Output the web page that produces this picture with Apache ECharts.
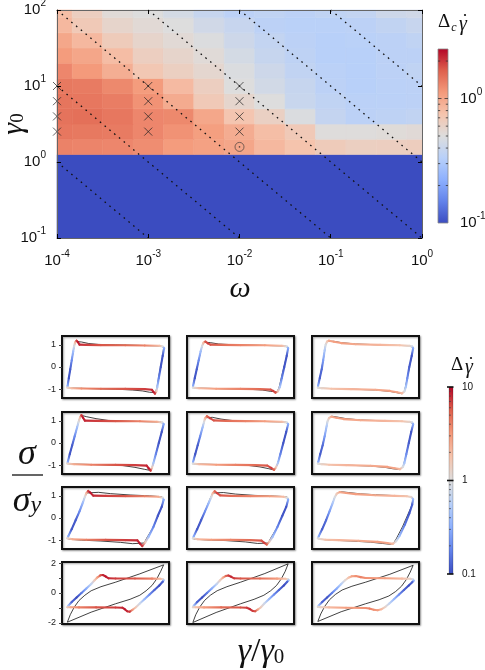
<!DOCTYPE html>
<html><head><meta charset="utf-8">
<script src="https://cdn.jsdelivr.net/npm/echarts@6/dist/echarts.min.js"></script>
<style>html,body{margin:0;padding:0;background:#fff}#c{width:485px;height:670px}</style>
</head><body><div id="c"></div>
<script>
// ---------------- DATA: top heat map ----------------
const omegaValues = [1e-4, 2.15e-4, 4.64e-4, 1e-3, 2.15e-3, 4.64e-3, 1e-2, 2.15e-2, 4.64e-2, 1e-1, 2.15e-1, 4.64e-1, 1];
const gamma0Values = [1.58, 2.51, 3.98, 6.31, 10, 15.8, 25.1, 39.8, 63.1, 100];
// deltaC[r][c] : r follows gamma0Values, c follows omegaValues
const deltaC = [
  [1.32,1.30,1.28,1.22,1.10,1.05,1.00,0.84,0.75,0.67,0.63,0.64,0.65],
  [1.43,1.41,1.39,1.28,1.18,1.07,0.94,0.79,0.69,0.51,0.51,0.52,0.53],
  [1.47,1.50,1.43,1.28,1.26,0.99,0.73,0.62,0.485,0.38,0.35,0.357,0.37],
  [1.45,1.43,1.37,1.18,0.95,0.69,0.57,0.50,0.40,0.363,0.345,0.345,0.35],
  [1.41,1.39,1.26,1.10,0.82,0.64,0.50,0.44,0.39,0.35,0.335,0.345,0.35],
  [1.28,1.12,0.925,0.71,0.63,0.56,0.485,0.42,0.37,0.345,0.335,0.35,0.363],
  [1.10,1.00,0.80,0.64,0.58,0.526,0.45,0.39,0.357,0.335,0.335,0.35,0.35],
  [0.99,0.84,0.67,0.58,0.535,0.49,0.42,0.375,0.35,0.335,0.34,0.35,0.363],
  [0.84,0.69,0.58,0.535,0.50,0.434,0.394,0.35,0.34,0.34,0.35,0.37,0.394],
  [0.79,0.64,0.526,0.50,0.45,0.39,0.35,0.363,0.35,0.363,0.375,0.42,0.434]
];
const belowYieldValue = 0.1;      // region under the lowest row (no yielding)
const crossPoints = [[1e-4,10],[1e-4,6.31],[1e-4,3.98],[1e-4,2.51],[1e-3,10],[1e-3,6.31],[1e-3,3.98],[1e-3,2.51],[1e-2,10],[1e-2,6.31],[1e-2,3.98],[1e-2,2.51]];
const circlePoints = [[1e-2,1.58]];
const dottedProducts = [1e-4, 1e-3, 1e-2, 1e-1, 1, 10];   // gamma0 * omega = const
const cb1Range = [0.1, 2.5];
const cb1MajorTicks = [1];
const cb1MinorTicks = [0.2,0.3,0.4,0.5,0.6,0.7,0.8,0.9,2];

// ---------------- DATA: bottom loops  [x, y, dGammaDot] ----------------
const colored_r1c1 = [[-0.99,-0.93,1.2],[-0.985,-0.85,0.3],[-0.96,-0.5,0.11],[-0.93,-0.1,0.12],[-0.9,0.3,0.2],[-0.87,0.7,0.4],[-0.85,0.95,0.9],[-0.83,1.12,2],[-0.8,1.19,7],[-0.77,1.12,9],[-0.74,1.01,8],[-0.6,1.0,7],[-0.3,0.99,6],[0.2,0.98,5],[0.6,0.97,4],[0.9,0.96,2],[0.97,0.93,1],[1.0,0.85,0.3],[0.97,0.5,0.11],[0.93,0.0,0.11],[0.89,-0.5,0.18],[0.86,-0.9,0.45],[0.84,-1.1,1.5],[0.81,-1.2,7],[0.78,-1.12,9],[0.75,-1.03,8],[0.6,-1.0,7],[0.2,-0.99,6],[-0.3,-0.98,5],[-0.7,-0.97,3.5],[-0.9,-0.96,2],[-0.99,-0.93,1.2]];
const colored_r1c2 = [[-0.98,-0.93,1.0],[-0.975,-0.85,0.3],[-0.94,-0.5,0.11],[-0.9,-0.1,0.12],[-0.86,0.3,0.2],[-0.82,0.7,0.4],[-0.79,0.95,0.9],[-0.76,1.1,2],[-0.72,1.15,6],[-0.67,1.07,7],[-0.62,1.01,6],[-0.4,1.0,5],[0.0,0.99,4],[0.5,0.98,3],[0.85,0.96,2],[0.95,0.93,1],[0.98,0.85,0.3],[0.95,0.5,0.11],[0.9,0.0,0.11],[0.85,-0.5,0.18],[0.81,-0.9,0.45],[0.77,-1.1,1.5],[0.72,-1.16,6],[0.67,-1.08,7],[0.62,-1.02,6],[0.4,-1.0,5],[0.0,-0.99,4],[-0.5,-0.98,3],[-0.85,-0.96,2],[-0.98,-0.93,1.0]];
const colored_r1c3 = [[-0.98,-0.93,1.0],[-0.975,-0.85,0.3],[-0.94,-0.5,0.12],[-0.9,-0.1,0.14],[-0.87,0.3,0.25],[-0.84,0.75,0.5],[-0.82,1.0,0.9],[-0.79,1.15,1.6],[-0.75,1.19,2.5],[-0.65,1.14,3],[-0.5,1.08,3],[-0.2,1.03,2.5],[0.3,1.0,2.2],[0.7,0.98,1.8],[0.9,0.96,1.3],[0.96,0.93,0.8],[0.98,0.85,0.3],[0.95,0.5,0.11],[0.9,0.0,0.12],[0.86,-0.5,0.2],[0.83,-0.9,0.45],[0.8,-1.1,0.9],[0.75,-1.19,2],[0.65,-1.14,2.8],[0.5,-1.08,3],[0.2,-1.03,2.5],[-0.3,-1.0,2.2],[-0.7,-0.98,1.8],[-0.9,-0.96,1.3],[-0.98,-0.93,1.0]];
const colored_r2c1 = [[-0.99,-0.93,1.2],[-0.98,-0.85,0.3],[-0.94,-0.5,0.11],[-0.89,-0.1,0.12],[-0.84,0.3,0.2],[-0.79,0.7,0.4],[-0.76,0.95,0.9],[-0.73,1.15,2],[-0.7,1.26,7],[-0.67,1.15,9],[-0.63,1.01,8],[-0.4,1.0,7],[0.0,0.99,6],[0.5,0.98,4],[0.85,0.96,2.5],[0.96,0.93,1],[0.99,0.85,0.3],[0.95,0.5,0.11],[0.89,0.0,0.11],[0.83,-0.5,0.18],[0.78,-0.9,0.45],[0.75,-1.12,1.5],[0.72,-1.25,7],[0.68,-1.14,9],[0.64,-1.02,8],[0.4,-1.0,7],[0.0,-0.99,6],[-0.5,-0.98,4],[-0.85,-0.96,2.5],[-0.99,-0.93,1.2]];
const colored_r2c2 = [[-0.98,-0.93,1.0],[-0.975,-0.85,0.3],[-0.93,-0.5,0.11],[-0.88,-0.1,0.12],[-0.83,0.3,0.2],[-0.78,0.7,0.4],[-0.75,0.95,0.9],[-0.73,1.12,2],[-0.69,1.21,5],[-0.63,1.12,7],[-0.55,1.02,6],[-0.3,1.0,5],[0.1,0.99,4],[0.5,0.98,3],[0.85,0.96,2],[0.95,0.93,1],[0.98,0.85,0.3],[0.94,0.5,0.11],[0.88,0.0,0.11],[0.82,-0.5,0.18],[0.77,-0.9,0.45],[0.73,-1.1,1.5],[0.69,-1.21,5],[0.63,-1.12,7],[0.55,-1.02,6],[0.3,-1.0,5],[-0.1,-0.99,4],[-0.5,-0.98,3],[-0.85,-0.96,2],[-0.98,-0.93,1.0]];
const colored_r2c3 = [[-0.98,-0.93,1.0],[-0.97,-0.85,0.3],[-0.93,-0.5,0.12],[-0.88,-0.1,0.14],[-0.84,0.3,0.25],[-0.8,0.75,0.5],[-0.78,0.98,0.9],[-0.75,1.13,1.6],[-0.7,1.19,2.5],[-0.6,1.14,3],[-0.45,1.08,3],[-0.1,1.03,2.5],[0.4,1.0,2.2],[0.75,0.98,1.8],[0.9,0.96,1.3],[0.96,0.93,0.8],[0.98,0.85,0.3],[0.94,0.5,0.11],[0.89,0.0,0.12],[0.84,-0.5,0.2],[0.8,-0.9,0.45],[0.77,-1.08,0.9],[0.71,-1.18,2],[0.6,-1.14,2.8],[0.45,-1.08,3],[0.1,-1.03,2.5],[-0.4,-1.0,2.2],[-0.75,-0.98,1.8],[-0.9,-0.96,1.3],[-0.98,-0.93,1.0]];
const colored_r3c1 = [[-0.99,-0.92,1.2],[-0.97,-0.82,0.3],[-0.9,-0.5,0.11],[-0.82,-0.1,0.12],[-0.74,0.3,0.2],[-0.67,0.7,0.4],[-0.63,0.95,0.9],[-0.6,1.12,2],[-0.56,1.22,7],[-0.52,1.15,9],[-0.46,1.01,8],[-0.2,1.0,7],[0.2,0.99,6],[0.6,0.98,4],[0.88,0.96,2.5],[0.97,0.92,1],[0.99,0.82,0.3],[0.95,0.5,0.11],[0.87,0.1,0.11],[0.78,-0.4,0.18],[0.68,-0.85,0.4],[0.61,-1.1,1.5],[0.55,-1.27,7],[0.5,-1.15,9],[0.45,-1.01,8],[0.2,-1.0,7],[-0.2,-0.99,6],[-0.6,-0.98,4],[-0.88,-0.96,2.5],[-0.99,-0.92,1.2]];
const colored_r3c2 = [[-0.98,-0.92,1.0],[-0.96,-0.82,0.3],[-0.89,-0.5,0.11],[-0.81,-0.1,0.12],[-0.73,0.3,0.2],[-0.65,0.7,0.4],[-0.6,0.95,0.9],[-0.57,1.12,2],[-0.53,1.21,5],[-0.48,1.12,7],[-0.42,1.02,6],[-0.2,1.0,5],[0.2,0.99,4],[0.6,0.98,3],[0.88,0.96,2],[0.96,0.92,1],[0.98,0.82,0.3],[0.94,0.5,0.11],[0.86,0.1,0.11],[0.76,-0.4,0.18],[0.66,-0.85,0.4],[0.59,-1.08,1.5],[0.54,-1.2,5],[0.49,-1.12,7],[0.43,-1.02,6],[0.2,-1.0,5],[-0.2,-0.99,4],[-0.6,-0.98,3],[-0.88,-0.96,2],[-0.98,-0.92,1.0]];
const colored_r3c3 = [[-0.98,-0.92,1.0],[-0.96,-0.82,0.3],[-0.89,-0.5,0.12],[-0.81,-0.1,0.14],[-0.74,0.3,0.25],[-0.67,0.7,0.5],[-0.63,0.95,0.9],[-0.59,1.1,1.6],[-0.53,1.17,2.5],[-0.4,1.13,3],[-0.2,1.08,3],[0.2,1.03,2.5],[0.6,1.0,2.2],[0.85,0.98,1.8],[0.94,0.95,1.2],[0.98,0.85,0.4],[0.96,0.6,0.13],[0.9,0.2,0.11],[0.81,-0.3,0.16],[0.7,-0.8,0.38],[0.63,-1.05,0.9],[0.56,-1.17,2],[0.45,-1.13,2.8],[0.25,-1.08,3],[-0.15,-1.03,2.5],[-0.55,-1.0,2.2],[-0.82,-0.98,1.8],[-0.94,-0.95,1.2],[-0.98,-0.92,1.0]];
const colored_r4c1 = [[-0.99,-0.95,1.5],[-0.97,-0.85,0.45],[-0.9,-0.6,0.13],[-0.8,-0.3,0.1],[-0.7,0.0,0.16],[-0.6,0.3,0.3],[-0.5,0.6,0.65],[-0.43,0.85,1.5],[-0.37,1.05,3],[-0.31,1.18,6],[-0.26,1.2,8],[-0.2,1.1,9],[-0.14,0.98,8],[0.0,0.97,7],[0.4,0.97,6],[0.75,0.96,4],[0.92,0.95,2],[0.98,0.92,1.2],[0.99,0.85,0.45],[0.97,0.75,0.13],[0.9,0.5,0.1],[0.8,0.2,0.13],[0.7,-0.1,0.2],[0.6,-0.4,0.35],[0.5,-0.7,0.75],[0.42,-0.95,1.5],[0.35,-1.12,3],[0.29,-1.25,7],[0.24,-1.22,8],[0.19,-1.08,9],[0.14,-0.98,8],[0.0,-0.97,7],[-0.4,-0.96,6],[-0.75,-0.96,4],[-0.92,-0.95,2.5],[-0.99,-0.95,1.5]];
const colored_r4c2 = [[-0.98,-0.95,1.2],[-0.96,-0.85,0.45],[-0.89,-0.6,0.13],[-0.79,-0.3,0.1],[-0.69,0.0,0.16],[-0.59,0.3,0.3],[-0.49,0.6,0.65],[-0.42,0.85,1.4],[-0.36,1.03,2.5],[-0.3,1.14,5],[-0.25,1.17,7],[-0.19,1.08,8],[-0.13,0.98,7],[0.0,0.97,6],[0.4,0.97,5],[0.75,0.96,3],[0.92,0.95,1.8],[0.98,0.92,1.1],[0.99,0.85,0.45],[0.96,0.75,0.13],[0.89,0.5,0.1],[0.79,0.2,0.13],[0.69,-0.1,0.2],[0.59,-0.4,0.35],[0.49,-0.7,0.75],[0.42,-0.95,1.4],[0.36,-1.1,2.5],[0.3,-1.22,6],[0.25,-1.2,7],[0.19,-1.07,8],[0.13,-0.98,7],[0.0,-0.97,6],[-0.4,-0.96,5],[-0.75,-0.96,3],[-0.92,-0.95,1.8],[-0.98,-0.95,1.2]];
const colored_r4c3 = [[-0.98,-0.93,1.1],[-0.96,-0.83,0.45],[-0.89,-0.6,0.13],[-0.79,-0.3,0.11],[-0.69,0.0,0.17],[-0.59,0.3,0.3],[-0.5,0.6,0.55],[-0.42,0.85,1.1],[-0.35,1.02,1.8],[-0.28,1.12,2.8],[-0.2,1.13,3.5],[-0.1,1.06,4],[0.0,1.0,3.5],[0.4,0.98,3],[0.75,0.96,2],[0.92,0.95,1.3],[0.98,0.9,0.8],[0.99,0.82,0.35],[0.96,0.72,0.13],[0.89,0.5,0.1],[0.79,0.2,0.13],[0.69,-0.1,0.2],[0.59,-0.4,0.35],[0.49,-0.7,0.65],[0.41,-0.92,1.2],[0.33,-1.08,2],[0.25,-1.15,3],[0.17,-1.12,3.5],[0.08,-1.04,4],[0.0,-1.0,3.5],[-0.4,-0.98,3],[-0.75,-0.96,2],[-0.92,-0.95,1.3],[-0.98,-0.93,1.1]];

const black_r1c1 = [[-0.99,-0.93],[-0.96,-0.5],[-0.9,0.3],[-0.85,0.95],[-0.82,1.15],[-0.79,1.19],[-0.7,1.13],[-0.55,1.06],[-0.35,1.02],[0,1.0],[0.6,0.97],[0.93,0.95],[0.99,0.88],[0.97,0.5],[0.9,-0.3],[0.85,-0.95],[0.82,-1.15],[0.79,-1.2],[0.7,-1.14],[0.55,-1.08],[0.35,-1.04],[0,-1.0],[-0.6,-0.97],[-0.93,-0.95],[-0.99,-0.93]];
const black_r1c2 = [[-0.98,-0.93],[-0.94,-0.5],[-0.86,0.3],[-0.79,0.95],[-0.75,1.12],[-0.72,1.16],[-0.62,1.1],[-0.45,1.04],[-0.2,1.01],[0.4,0.98],[0.92,0.95],[0.98,0.88],[0.95,0.5],[0.86,-0.3],[0.79,-0.95],[0.75,-1.12],[0.72,-1.16],[0.62,-1.1],[0.45,-1.04],[0.2,-1.01],[-0.4,-0.98],[-0.92,-0.95],[-0.98,-0.93]];
const black_r1c3 = [[-0.98,-0.93],[-0.94,-0.5],[-0.87,0.3],[-0.82,1.0],[-0.79,1.16],[-0.75,1.21],[-0.65,1.16],[-0.5,1.1],[-0.2,1.04],[0.3,1.0],[0.9,0.96],[0.98,0.88],[0.95,0.5],[0.86,-0.5],[0.8,-1.1],[0.75,-1.21],[0.65,-1.16],[0.5,-1.1],[0.2,-1.04],[-0.3,-1.0],[-0.9,-0.96],[-0.98,-0.93]];
const black_r2c1 = [[-0.99,-0.93],[-0.94,-0.5],[-0.84,0.3],[-0.76,0.95],[-0.73,1.15],[-0.7,1.25],[-0.6,1.19],[-0.4,1.1],[-0.15,1.02],[0.3,0.98],[0.92,0.95],[0.99,0.87],[0.95,0.5],[0.83,-0.5],[0.76,-1.05],[0.72,-1.24],[0.6,-1.19],[0.4,-1.1],[0.15,-1.02],[-0.3,-0.98],[-0.92,-0.95],[-0.99,-0.93]];
const black_r2c2 = [[-0.98,-0.93],[-0.93,-0.5],[-0.83,0.3],[-0.75,0.95],[-0.72,1.14],[-0.69,1.22],[-0.58,1.16],[-0.4,1.08],[-0.15,1.01],[0.3,0.98],[0.92,0.95],[0.98,0.87],[0.94,0.5],[0.82,-0.5],[0.75,-1.02],[0.69,-1.22],[0.58,-1.16],[0.4,-1.08],[0.15,-1.01],[-0.3,-0.98],[-0.92,-0.95],[-0.98,-0.93]];
const black_r2c3 = [[-0.98,-0.93],[-0.93,-0.5],[-0.84,0.3],[-0.78,0.98],[-0.74,1.15],[-0.69,1.21],[-0.55,1.16],[-0.4,1.1],[-0.1,1.04],[0.4,1.0],[0.9,0.96],[0.98,0.87],[0.94,0.5],[0.84,-0.5],[0.77,-1.08],[0.7,-1.2],[0.55,-1.16],[0.4,-1.1],[0.1,-1.04],[-0.4,-1.0],[-0.9,-0.96],[-0.98,-0.93]];
const black_r3c1 = [[-0.99,-0.92],[-0.9,-0.5],[-0.74,0.3],[-0.63,0.95],[-0.59,1.13],[-0.55,1.22],[-0.35,1.16],[-0.1,1.1],[0.3,1.04],[0.7,1.0],[0.95,0.96],[0.99,0.85],[0.95,0.5],[0.78,-0.4],[0.63,-0.95],[0.59,-1.13],[0.55,-1.22],[0.35,-1.16],[0.1,-1.1],[-0.3,-1.04],[-0.7,-1.0],[-0.95,-0.96],[-0.99,-0.92]];
const black_r3c2 = [[-0.98,-0.92],[-0.89,-0.5],[-0.73,0.3],[-0.61,0.95],[-0.57,1.13],[-0.53,1.21],[-0.35,1.15],[-0.1,1.08],[0.3,1.02],[0.7,0.99],[0.95,0.96],[0.98,0.85],[0.94,0.5],[0.76,-0.4],[0.61,-0.95],[0.57,-1.13],[0.53,-1.21],[0.35,-1.15],[0.1,-1.08],[-0.3,-1.02],[-0.7,-0.99],[-0.95,-0.96],[-0.98,-0.92]];
const black_r3c3 = [[-0.98,-0.92],[-0.89,-0.5],[-0.74,0.3],[-0.63,0.95],[-0.58,1.12],[-0.52,1.19],[-0.35,1.15],[-0.1,1.09],[0.3,1.04],[0.7,1.0],[0.94,0.96],[0.98,0.85],[0.94,0.5],[0.76,-0.4],[0.63,-0.95],[0.58,-1.12],[0.52,-1.19],[0.35,-1.15],[0.1,-1.09],[-0.3,-1.04],[-0.7,-1.0],[-0.94,-0.96],[-0.98,-0.92]];
const black_r4c1 = [[-0.99,-1.95],[-0.93,-1.45],[-0.85,-0.95],[-0.75,-0.5],[-0.63,-0.15],[-0.5,0.15],[-0.3,0.42],[0.0,0.72],[0.5,1.28],[0.99,1.88],[0.93,1.45],[0.85,0.95],[0.75,0.5],[0.63,0.15],[0.5,-0.15],[0.3,-0.42],[0.0,-0.72],[-0.5,-1.28],[-0.99,-1.95]];
const black_r4c2 = [[-0.98,-1.97],[-0.92,-1.45],[-0.84,-0.95],[-0.74,-0.5],[-0.62,-0.15],[-0.48,0.15],[-0.28,0.42],[0.0,0.72],[0.5,1.3],[0.98,1.95],[0.92,1.45],[0.84,0.95],[0.74,0.5],[0.62,0.15],[0.48,-0.15],[0.28,-0.42],[0.0,-0.72],[-0.5,-1.3],[-0.98,-1.97]];
const black_r4c3 = [[-0.98,-1.9],[-0.92,-1.4],[-0.84,-0.9],[-0.74,-0.45],[-0.62,-0.1],[-0.48,0.2],[-0.28,0.45],[0.0,0.72],[0.5,1.25],[0.98,1.85],[0.92,1.4],[0.84,0.9],[0.74,0.45],[0.62,0.1],[0.48,-0.2],[0.28,-0.45],[0.0,-0.72],[-0.5,-1.25],[-0.98,-1.9]];

const coloredLoops = [[colored_r1c1,colored_r1c2,colored_r1c3],[colored_r2c1,colored_r2c2,colored_r2c3],[colored_r3c1,colored_r3c2,colored_r3c3],[colored_r4c1,colored_r4c2,colored_r4c3]];
const blackLoops = [[black_r1c1,black_r1c2,black_r1c3],[black_r2c1,black_r2c2,black_r2c3],[black_r3c1,black_r3c2,black_r3c3],[black_r4c1,black_r4c2,black_r4c3]];
const panelYMax = [1.4, 1.4, 1.4, 2.07];
const panelXMax = 1.1;
const panelYLabels = [[-1,0,1],[-1,0,1],[-1,0,1],[-2,0,2]];
const panelYTicks = [[-1,0,1],[-1,0,1],[-1,0,1],[-2,-1,0,1,2]];
const cb2Range = [0.1, 10];
const cb2MajorTicks = [0.1, 1, 10];
const cb2MinorTicks = [0.2,0.3,0.4,0.5,0.6,0.7,0.8,0.9,2,3,4,5,6,7,8,9];

// ---------------- helpers ----------------
const coolwarm = ['#3b4cc0','#6282ea','#8db0fe','#b8d0f9','#dddddd','#f5c4ad','#f49a7b','#de604d','#b40426'];
function cw(t){ t = Math.max(0, Math.min(1, t)); return echarts.color.lerp(t, coolwarm); }
function colorFor(v, range){ return cw((Math.log10(v) - Math.log10(range[0])) / (Math.log10(range[1]) - Math.log10(range[0]))); }
function gradStops(){ return coolwarm.map((c,i)=>({offset: i/(coolwarm.length-1), color: c})); }
function edges(a){
  const e = [a[0]*a[0]/Math.sqrt(a[0]*a[1])];
  for (let i=1;i<a.length;i++) e.push(Math.sqrt(a[i-1]*a[i]));
  const n = a.length;
  e.push(a[n-1]*a[n-1]/Math.sqrt(a[n-1]*a[n-2]));
  return e;
}
const xEdges = edges(omegaValues), yEdges = edges(gamma0Values);
const FONT = 'Liberation Sans';
const expRich = {
  b: {fontSize: 15, fontFamily: FONT, color: '#111'},
  s: {fontSize: 10, fontFamily: FONT, color: '#111', padding: [0,0,13,0]}
};
function expLabel(v){
  const e = Math.log10(v);
  if (Math.abs(e - Math.round(e)) > 1e-6) return '';
  return '{b|10}{s|' + Math.round(e) + '}';
}

// heat map cells
const cellData = [];
deltaC.forEach((row, r) => row.forEach((v, c) => cellData.push([omegaValues[c], gamma0Values[r], v, c, r])));
function clipTo(rect, cs){
  return echarts.graphic.clipRectByRect(rect, {x: cs.x, y: cs.y, width: cs.width, height: cs.height});
}
function renderCell(params, api){
  const c = api.value(3), r = api.value(4), v = api.value(2);
  const p0 = api.coord([xEdges[c], yEdges[r]]), p1 = api.coord([xEdges[c+1], yEdges[r+1]]);
  const rect = clipTo({x: p0[0], y: p1[1], width: p1[0]-p0[0], height: p0[1]-p1[1]}, params.coordSys);
  if (!rect) return;
  const col = colorFor(v, cb1Range);
  return {type: 'rect', shape: rect, style: {fill: col, stroke: col, lineWidth: 0.6}};
}
function renderBand(params, api){
  const p0 = api.coord([1e-4, 0.1]), p1 = api.coord([1, yEdges[0]]);
  const rect = clipTo({x: p0[0], y: p1[1], width: p1[0]-p0[0], height: p0[1]-p1[1]}, params.coordSys);
  const col = colorFor(Math.max(api.value(2), cb1Range[0]), cb1Range);
  return {type: 'rect', shape: rect, style: {fill: col, stroke: col, lineWidth: 0.6}};
}

function colorbarRender(range, stroke){
  return function(params, api){
    const p0 = api.coord([0, range[0]]), p1 = api.coord([1, range[1]]);
    return {type: 'rect', shape: {x: p0[0], y: p1[1], width: p1[0]-p0[0], height: p0[1]-p1[1]},
      style: {fill: new echarts.graphic.LinearGradient(0,1,0,0, gradStops()), stroke: stroke, lineWidth: 0.8}};
  };
}
function cb1TickRender(params, api){
  const v = api.value(1), major = api.value(2);
  const a = api.coord([0, v]), b = api.coord([1, v]);
  const L = major ? 3.5 : 2.2;
  return {type: 'group', children: [
    {type: 'line', shape: {x1: a[0], y1: a[1], x2: a[0]+L, y2: a[1]}, style: {stroke: '#333', lineWidth: 0.8}},
    {type: 'line', shape: {x1: b[0]-L, y1: b[1], x2: b[0], y2: b[1]}, style: {stroke: '#333', lineWidth: 0.8}}
  ]};
}
function cb2TickRender(params, api){
  const v = api.value(1), major = api.value(2);
  const a = api.coord([0, v]), b = api.coord([1, v]);
  if (major) return {type: 'line', shape: {x1: a[0]-2, y1: a[1], x2: b[0]+0.5, y2: b[1]}, style: {stroke: '#111', lineWidth: 1.6}};
  return {type: 'line', shape: {x1: a[0], y1: a[1], x2: a[0]+2, y2: a[1]}, style: {stroke: '#444', lineWidth: 0.7}};
}

function segments(pts){
  const out = [];
  for (let i=0;i<pts.length-1;i++){ const a = pts[i], b = pts[i+1]; out.push([a[0],a[1],b[0],b[1],a[2],b[2]]); }
  return out;
}
function renderSeg(params, api){
  const p1 = api.coord([api.value(0), api.value(1)]), p2 = api.coord([api.value(2), api.value(3)]);
  const c1 = colorFor(api.value(4), cb2Range), c2 = colorFor(api.value(5), cb2Range);
  const len = Math.abs(p1[0]-p2[0]) + Math.abs(p1[1]-p2[1]);
  const stroke = len > 0.5 ? new echarts.graphic.LinearGradient(p1[0],p1[1],p2[0],p2[1],[{offset:0,color:c1},{offset:1,color:c2}], true) : c1;
  return {type: 'line', shape: {x1: p1[0], y1: p1[1], x2: p2[0], y2: p2[1]}, style: {stroke: stroke, lineWidth: 2.1, lineCap: 'round'}};
}

// ---------------- layout ----------------
const grids = [
  {left: 57, right: 63, top: 10, height: 228, outerBoundsMode: 'none'},
  {left: 438, top: 49, width: 10, height: 174, outerBoundsMode: 'none'}
];
const xAxes = [
  {gridIndex: 0, type: 'log', logBase: 10, min: 1e-4, max: 1, position: 'bottom', z: 10,
   axisLine: {show: true, onZero: false, lineStyle: {color: '#666', width: 1}},
   axisTick: {show: true, inside: true, length: 4, lineStyle: {color: '#000'}},
   axisLabel: {formatter: expLabel, rich: expRich, margin: 11}, splitLine: {show: false}},
  {gridIndex: 0, type: 'log', logBase: 10, min: 1e-4, max: 1, position: 'top', z: 10,
   axisLine: {show: true, onZero: false, lineStyle: {color: '#666', width: 1}},
   axisTick: {show: true, inside: true, length: 4, lineStyle: {color: '#000'}},
   axisLabel: {show: false}, splitLine: {show: false}},
  {gridIndex: 1, type: 'value', min: 0, max: 1, show: false}
];
const yAxes = [
  {gridIndex: 0, type: 'log', logBase: 10, min: 0.1, max: 100, position: 'left', z: 10,
   axisLine: {show: true, onZero: false, lineStyle: {color: '#666', width: 1}},
   axisTick: {show: true, inside: true, length: 4, lineStyle: {color: '#000'}},
   axisLabel: {formatter: expLabel, rich: expRich, margin: 11}, splitLine: {show: false}},
  {gridIndex: 0, type: 'log', logBase: 10, min: 0.1, max: 100, position: 'right', z: 10,
   axisLine: {show: true, onZero: false, lineStyle: {color: '#666', width: 1}},
   axisTick: {show: true, inside: true, length: 4, lineStyle: {color: '#000'}},
   axisLabel: {show: false}, splitLine: {show: false}},
  {gridIndex: 1, type: 'log', logBase: 10, min: cb1Range[0], max: cb1Range[1], position: 'right',
   axisLine: {show: false, onZero: false}, axisTick: {show: false},
   axisLabel: {formatter: expLabel, rich: expRich, margin: 12, showMaxLabel: false}, splitLine: {show: false}}
];
const series = [
  {type: 'custom', coordinateSystem: 'cartesian2d', xAxisIndex: 0, yAxisIndex: 0, renderItem: renderBand,
   encode: {x: 0, y: 1}, data: [[1e-2, 0.3, belowYieldValue]], z: 1, silent: true},
  {type: 'custom', coordinateSystem: 'cartesian2d', xAxisIndex: 0, yAxisIndex: 0, renderItem: renderCell,
   encode: {x: 0, y: 1}, data: cellData, z: 1, silent: true}
];
dottedProducts.forEach(P => {
  const w1 = Math.max(1e-4, P/100), w2 = Math.min(1, P/0.1);
  series.push({type: 'line', xAxisIndex: 0, yAxisIndex: 0, data: [[w1, P/w1],[w2, P/w2]], showSymbol: false, symbol: 'none',
    lineStyle: {color: '#111', width: 1.3, type: [1.6, 4.6]}, z: 3, silent: true});
});
series.push(
  {type: 'scatter', xAxisIndex: 0, yAxisIndex: 0, data: crossPoints, symbol: 'path://M0,0L10,10M10,0L0,10', symbolSize: 8,
   itemStyle: {color: 'rgba(0,0,0,0)', borderColor: '#222', borderWidth: 0.9}, z: 4, silent: true},
  {type: 'scatter', xAxisIndex: 0, yAxisIndex: 0, data: circlePoints, symbol: 'circle', symbolSize: 9,
   itemStyle: {color: 'rgba(0,0,0,0)', borderColor: '#333', borderWidth: 0.8}, z: 4, silent: true},
  {type: 'scatter', xAxisIndex: 0, yAxisIndex: 0, data: circlePoints, symbol: 'circle', symbolSize: 1.6,
   itemStyle: {color: '#333'}, z: 4, silent: true},
  {type: 'custom', coordinateSystem: 'cartesian2d', xAxisIndex: 2, yAxisIndex: 2, renderItem: colorbarRender(cb1Range, '#888'),
   encode: {x: 0, y: 1}, data: [[0.5, 1]], silent: true, z: 2},
  {type: 'custom', coordinateSystem: 'cartesian2d', xAxisIndex: 2, yAxisIndex: 2, renderItem: cb1TickRender,
   encode: {x: 0, y: 1}, data: cb1MajorTicks.map(v=>[0.5,v,1]).concat(cb1MinorTicks.map(v=>[0.5,v,0])), silent: true, z: 3}
);

const panelLeft = [62, 187, 312], panelTop = [336, 412, 487, 562];
for (let r=0;r<4;r++){
  for (let c=0;c<3;c++){
    const gi = grids.length;
    grids.push({left: panelLeft[c], top: panelTop[r], width: 107, height: 62, show: true, outerBoundsMode: 'none',
      borderColor: '#111', borderWidth: 2, backgroundColor: '#fff',
      shadowColor: 'rgba(0,0,0,0.35)', shadowBlur: 2, shadowOffsetX: 1, shadowOffsetY: 1});
    const ai = xAxes.length;
    xAxes.push({gridIndex: gi, type: 'value', min: -panelXMax, max: panelXMax, show: false});
    yAxes.push({gridIndex: gi, type: 'value', min: -panelYMax[r], max: panelYMax[r], show: c === 0, position: 'left',
      axisLine: {show: false, onZero: false},
      axisTick: {show: true, inside: false, length: 3, customValues: panelYTicks[r], lineStyle: {color: '#444'}},
      axisLabel: {customValues: panelYLabels[r], fontSize: 9, margin: 6, color: '#222', fontFamily: FONT},
      splitLine: {show: false}});
    series.push({type: 'line', xAxisIndex: ai, yAxisIndex: ai, data: blackLoops[r][c], showSymbol: false, symbol: 'none',
      lineStyle: {color: '#111', width: 0.8}, z: 2, silent: true});
    series.push({type: 'custom', coordinateSystem: 'cartesian2d', xAxisIndex: ai, yAxisIndex: ai, renderItem: renderSeg,
      encode: {x: [0,2], y: [1,3]}, data: segments(coloredLoops[r][c]), z: 3, silent: true});
  }
}
// bottom colour bar
{
  const gi = grids.length;
  grids.push({left: 449, top: 387, width: 4, height: 187, outerBoundsMode: 'none'});
  const ai = xAxes.length;
  xAxes.push({gridIndex: gi, type: 'value', min: 0, max: 1, show: false});
  yAxes.push({gridIndex: gi, type: 'log', logBase: 10, min: cb2Range[0], max: cb2Range[1], position: 'right',
    axisLine: {show: false, onZero: false}, axisTick: {show: false}, splitLine: {show: false},
    axisLabel: {fontSize: 10, margin: 9, color: '#111', fontFamily: FONT, formatter: v => v < 1 ? v.toFixed(1) : String(Math.round(v))}});
  series.push({type: 'custom', coordinateSystem: 'cartesian2d', xAxisIndex: ai, yAxisIndex: ai, renderItem: colorbarRender(cb2Range, 'rgba(0,0,0,0.25)'),
    encode: {x: 0, y: 1}, data: [[0.5, 1]], silent: true, z: 2});
  series.push({type: 'custom', coordinateSystem: 'cartesian2d', xAxisIndex: ai, yAxisIndex: ai, renderItem: cb2TickRender,
    encode: {x: 0, y: 1}, data: cb2MajorTicks.map(v=>[0.5,v,1]).concat(cb2MinorTicks.map(v=>[0.5,v,0])), silent: true, z: 3});
}

const SERIF = '"Liberation Serif"';
const INK = '#111';
const graphic = [
  {type: 'text', x: 240, y: 289, style: {text: 'ω', font: 'italic 30px ' + SERIF, fill: INK, align: 'center', verticalAlign: 'middle'}},
  {type: 'text', x: 14, y: 124, rotation: Math.PI/2, style: {text: '{g|γ}{s|0}', align: 'center', verticalAlign: 'middle',
    rich: {g: {font: 'italic 30px ' + SERIF, fill: INK}, s: {font: '19px ' + SERIF, fill: INK, padding: [9,0,0,0]}}}},
  // Δ_c γ-dot (colour bar title)
  {type: 'text', x: 444, y: 22, style: {text: 'Δ', font: '19px ' + SERIF, fill: INK, align: 'center', verticalAlign: 'middle'}},
  {type: 'text', x: 454, y: 28, style: {text: 'c', font: 'italic 12px ' + SERIF, fill: INK, align: 'center', verticalAlign: 'middle'}},
  {type: 'text', x: 463, y: 25, style: {text: 'γ', font: 'italic 20px ' + SERIF, fill: INK, align: 'center', verticalAlign: 'middle'}},
  {type: 'circle', shape: {cx: 465, cy: 15, r: 1.1}, style: {fill: INK}},
  // σ / σ_y
  {type: 'text', x: 27, y: 455, style: {text: 'σ', font: 'italic 36px ' + SERIF, fill: INK, align: 'center', verticalAlign: 'middle'}},
  {type: 'line', shape: {x1: 12, y1: 475, x2: 43, y2: 475}, style: {stroke: INK, lineWidth: 1.3}},
  {type: 'text', x: 27, y: 502, style: {text: '{g|σ}{s|y}', align: 'center', verticalAlign: 'middle',
    rich: {g: {font: 'italic 36px ' + SERIF, fill: INK}, s: {font: 'italic 24px ' + SERIF, fill: INK, padding: [8,0,0,0]}}}},
  // γ / γ0
  {type: 'text', x: 261, y: 652, style: {text: '{g|γ}{n|/}{g|γ}{s|0}', align: 'center', verticalAlign: 'middle',
    rich: {g: {font: 'italic 34px ' + SERIF, fill: INK}, n: {font: '34px ' + SERIF, fill: INK}, s: {font: '21px ' + SERIF, fill: INK, padding: [10,0,0,0]}}}},
  // Δ γ-dot (lower colour bar title)
  {type: 'text', x: 457, y: 365, style: {text: 'Δ', font: '19px ' + SERIF, fill: INK, align: 'center', verticalAlign: 'middle'}},
  {type: 'text', x: 469, y: 368, style: {text: 'γ', font: 'italic 20px ' + SERIF, fill: INK, align: 'center', verticalAlign: 'middle'}},
  {type: 'circle', shape: {cx: 471, cy: 358, r: 1.1}, style: {fill: INK}}
];

const chart = echarts.init(document.getElementById('c'), null, {renderer: 'canvas'});
chart.setOption({
  animation: false,
  backgroundColor: '#fff',
  textStyle: {fontFamily: FONT},
  grid: grids, xAxis: xAxes, yAxis: yAxes, series: series, graphic: graphic
});
</script></body></html>
